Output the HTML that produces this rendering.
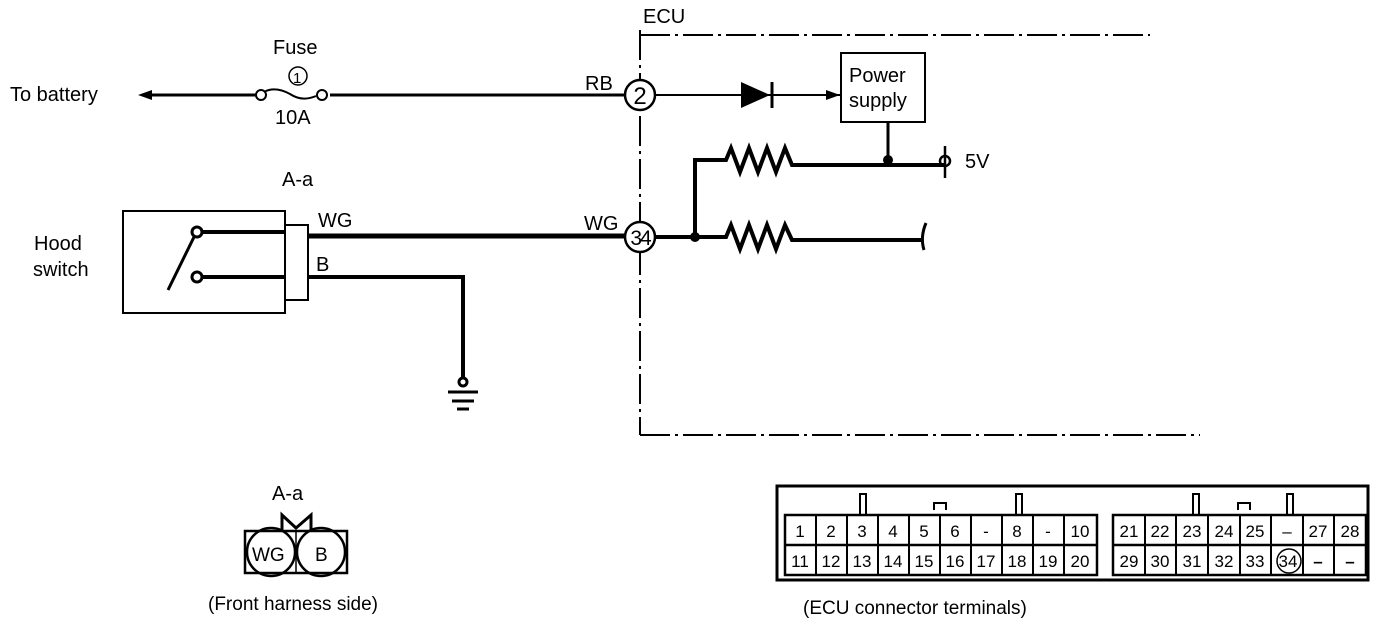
<!DOCTYPE html>
<html><head><style>
body{margin:0;background:#fff}
svg{display:block}
text{font-family:"Liberation Sans",sans-serif;fill:#000}
</style></head><body>
<svg width="1392" height="624" viewBox="0 0 1392 624" xmlns="http://www.w3.org/2000/svg">
<g stroke="#000" fill="none">
<!-- ECU boundary -->
<path d="M640 30 V435 M640 35 H1150 M640 435 H1200" stroke-width="2" stroke-dasharray="30 5 3 5"/>
<!-- battery line -->
<path d="M145 95 H258 M330 95 H626" stroke-width="3"/>
<path d="M264 92 Q275 86 290 94 Q302 102 316 96" stroke-width="2"/>
<circle cx="261" cy="95" r="5" stroke-width="2" fill="#fff"/>
<circle cx="322" cy="95" r="5" stroke-width="2" fill="#fff"/>
<circle cx="298" cy="76" r="9" stroke-width="1.5"/>
<path d="M655 95 H840" stroke-width="2"/>
<circle cx="640" cy="95" r="15" stroke-width="2.5" fill="#fff"/>
<rect x="841" y="53" width="84" height="69" stroke-width="2"/>
<path d="M888 122 V160" stroke-width="3"/>
<!-- 5V line -->
<path d="M695 238 V160 H726 L731 148 L740 172 L749 148 L758 172 L767 148 L776 172 L785 148 L792 165 H945" stroke-width="4"/>
<path d="M945 146 V178" stroke-width="2.5"/>
<circle cx="945" cy="161" r="5" stroke-width="2.5"/>
<!-- WG line -->
<path d="M308 236 H626" stroke-width="5"/>
<circle cx="640" cy="237" r="15" stroke-width="2.5" fill="#fff"/>
<path d="M655 237 H726 L731 225 L740 249 L749 225 L758 249 L767 225 L776 249 L785 225 L792 240 H922" stroke-width="4"/>
<path d="M926 223 Q920 237 924 250" stroke-width="3"/>
<!-- switch -->
<rect x="123" y="211" width="162" height="102" stroke-width="2"/>
<rect x="285" y="225" width="23" height="75" stroke-width="2"/>
<path d="M200 232 H285 M200 277 H285 M308 277 H463 V385" stroke-width="4"/>
<path d="M194 237 L168 290" stroke-width="3"/>
<circle cx="197" cy="232" r="5" stroke-width="3" fill="#fff"/>
<circle cx="197" cy="277" r="5" stroke-width="3" fill="#fff"/>
<circle cx="463" cy="382" r="4" stroke-width="3" fill="#fff"/>
<path d="M448 392 H478 M452 401 H474 M457 409 H469" stroke-width="3"/>
<!-- A-a connector -->
<rect x="245" y="531" width="102" height="42" stroke-width="2.5"/>
<path d="M296 531 V573" stroke-width="1.5"/>
<circle cx="271" cy="552" r="24" stroke-width="2.5"/>
<circle cx="321" cy="552" r="24" stroke-width="2.5"/>
<path d="M282 531 V515 L296 528 L311 515 V531" stroke-width="3"/>
<!-- ECU connector -->
<rect x="777" y="486" width="591" height="94" stroke-width="3"/>
<path d="M785 515 H1097 V575 H785 Z M785 545 H1097" stroke-width="2.5"/>
<path d="M1113 515 H1366 V575 H1113 Z M1113 545 H1366" stroke-width="2.5"/>
<path d="M816 515 V575 M847 515 V575 M878 515 V575 M909 515 V575 M940 515 V575 M971 515 V575 M1002 515 V575 M1033 515 V575 M1064 515 V575" stroke-width="2"/>
<path d="M1145 515 V575 M1176 515 V575 M1208 515 V575 M1240 515 V575 M1271 515 V575 M1303 515 V575 M1334 515 V575" stroke-width="2"/>
<path d="M860 515 V494 H866 V515 M1016 515 V494 H1022 V515 M1193 515 V494 H1199 V515 M1287 515 V494 H1293 V515 M934 510 V503 H946 V510 M1238 510 V503 H1250 V510" stroke-width="2"/>
<circle cx="1289" cy="561" r="12" stroke-width="1.5"/>
</g>
<path d="M138 95 L152 90 L152 100 Z"/>
<path d="M741 82 L770 95 L741 108 Z"/>
<path d="M772 82 V108" stroke="#000" stroke-width="3"/>
<path d="M840 95 L826 90 L826 100 Z"/>
<circle cx="888" cy="160" r="5"/>
<circle cx="695" cy="237" r="5"/>
<g font-size="20">
<text x="10" y="101">To battery</text>
<text x="273" y="54">Fuse</text>
<text x="293" y="83" font-size="15">1</text>
<text x="275" y="124">10A</text>
<text x="643" y="23">ECU</text>
<text x="585" y="90">RB</text>
<text x="640" y="104" font-size="24" text-anchor="middle">2</text>
<text x="849" y="82">Power</text>
<text x="849" y="107">supply</text>
<text x="965" y="168">5V</text>
<text x="282" y="186">A-a</text>
<text x="34" y="250">Hood</text>
<text x="33" y="276">switch</text>
<text x="318" y="227">WG</text>
<text x="316" y="271">B</text>
<text x="584" y="230">WG</text>
<text x="640" y="245" font-size="21" letter-spacing="-2" text-anchor="middle">34</text>
<text x="272" y="500">A-a</text>
<text x="252" y="561" font-size="19">WG</text>
<text x="315" y="561" font-size="19">B</text>
<text x="208" y="610" font-size="19">(Front harness side)</text>
<text x="803" y="614" font-size="19">(ECU connector terminals)</text>
</g>
<g font-size="17" text-anchor="middle">
<text x="800" y="537">1</text><text x="831" y="537">2</text><text x="862" y="537">3</text><text x="893" y="537">4</text><text x="924" y="537">5</text><text x="955" y="537">6</text><text x="986" y="537">-</text><text x="1017" y="537">8</text><text x="1048" y="537">-</text><text x="1080" y="537">10</text>
<text x="800" y="567">11</text><text x="831" y="567">12</text><text x="862" y="567">13</text><text x="893" y="567">14</text><text x="924" y="567">15</text><text x="955" y="567">16</text><text x="986" y="567">17</text><text x="1017" y="567">18</text><text x="1048" y="567">19</text><text x="1080" y="567">20</text>
<text x="1129" y="537">21</text><text x="1160" y="537">22</text><text x="1192" y="537">23</text><text x="1224" y="537">24</text><text x="1255" y="537">25</text><text x="1287" y="537">–</text><text x="1318" y="537">27</text><text x="1350" y="537">28</text>
<text x="1129" y="567">29</text><text x="1160" y="567">30</text><text x="1192" y="567">31</text><text x="1224" y="567">32</text><text x="1255" y="567">33</text><text x="1288" y="567">34</text><text x="1318" y="567" font-weight="bold">–</text><text x="1350" y="567" font-weight="bold">–</text>
</g>
</svg>
</body></html>
